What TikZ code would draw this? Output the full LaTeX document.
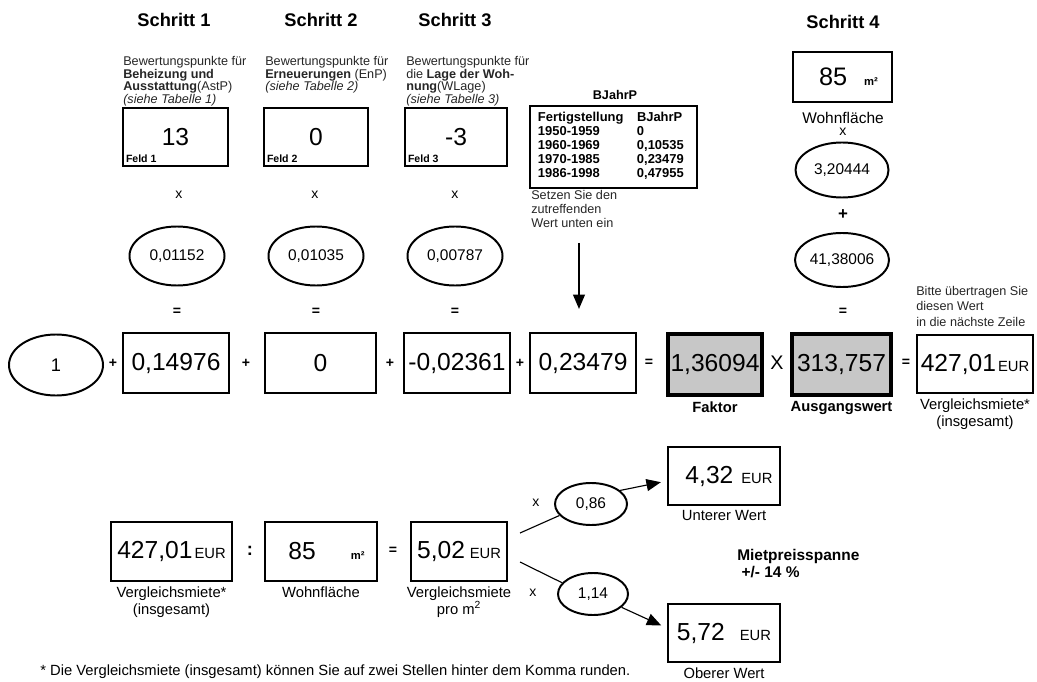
\documentclass[tikz,border=0pt]{standalone}
\usepackage{fontspec}
\setmainfont{Liberation Sans}
\usetikzlibrary{positioning, shapes.geometric, arrows.meta}

\tikzset{
  kasten/.style={draw, rectangle, line width=1.8pt, inner sep=0pt, minimum height=1.5cm, font=\fontsize{17.5}{18}\selectfont},
  graukasten/.style={kasten, line width=3pt, fill=black!22},
  oval/.style={draw, ellipse, line width=1.4pt, inner sep=0pt, font=\fontsize{11}{12}\selectfont},
  zeichen/.style={inner sep=0pt, font=\fontsize{10}{10}\selectfont\bfseries},
  mal/.style={inner sep=0pt, font=\fontsize{10}{10}\selectfont},
  etikett/.style={inner sep=0pt, align=center, font=\fontsize{10.5}{12}\selectfont},
  hinweis/.style={inner sep=0pt, anchor=north west, align=left, text=black!85, font=\fontsize{9}{9}\selectfont},
  titel/.style={inner sep=0pt, font=\fontsize{13}{13}\selectfont\bfseries},
  feldname/.style={inner sep=0pt, font=\fontsize{7.5}{8}\selectfont\bfseries},
  pfeil/.style={-{Triangle[length=3.6mm,width=3mm]}, line width=0.8pt},
}
\newcommand{\eur}{{\fontsize{10.5}{10}\selectfont EUR}}
\newcommand{\qm}{{\fontsize{8}{8}\selectfont\bfseries m²}}

\begin{document}
\begin{tikzpicture}[x=0.025cm, y=-0.025cm]
  \useasboundingbox (0,0) rectangle (1037,682);

  % Schritt 1 bis 3
  \node[titel] (titel1) at (174,20) {Schritt 1};
  \node[titel] (titel2) at (321,20) {Schritt 2};
  \node[titel] (titel3) at (455,20) {Schritt 3};
  \node[titel] (titel4) at (843,22) {Schritt 4};

  \node[hinweis] (text1) at (123,56) {Bewertungspunkte für\\\textbf{Beheizung und}\\\textbf{Ausstattung}(AstP)\\\textit{(siehe Tabelle 1)}};
  \node[hinweis] (text2) at (265,56) {Bewertungspunkte für\\\textbf{Erneuerungen} (EnP)\\\textit{(siehe Tabelle 2)}};
  \node[hinweis] (text3) at (406,56) {Bewertungspunkte für\\die \textbf{Lage der Woh-}\\\textbf{nung}(WLage)\\\textit{(siehe Tabelle 3)}};

  \node[kasten, minimum width=2.625cm, minimum height=1.45cm] (feld1) at (175.5,137) {13};
  \node[kasten, minimum width=2.6cm, minimum height=1.45cm] (feld2) at (316,137) {0};
  \node[kasten, minimum width=2.55cm, minimum height=1.45cm] (feld3) at (456,137) {-3};
  \node[feldname, above right=0.12cm and 0.1cm of feld1.south west] (name1) {Feld 1};
  \node[feldname, above right=0.12cm and 0.1cm of feld2.south west] (name2) {Feld 2};
  \node[feldname, above right=0.12cm and 0.1cm of feld3.south west] (name3) {Feld 3};

  \node[mal] (mal1) at (179,195) {x};
  \node[mal] (mal2) at (315,195) {x};
  \node[mal] (mal3) at (455,195) {x};

  \node[oval, minimum width=2.375cm, minimum height=1.475cm] (oval1) at (177,256) {0,01152};
  \node[oval, minimum width=2.375cm, minimum height=1.475cm] (oval2) at (316,256) {0,01035};
  \node[oval, minimum width=2.375cm, minimum height=1.475cm] (oval3) at (455,256) {0,00787};

  \node[zeichen] (gleich1) at (177,312) {=};
  \node[zeichen] (gleich2) at (316,312) {=};
  \node[zeichen] (gleich3) at (455,312) {=};

  % Baujahr-Tabelle
  \node[inner sep=0pt, font=\fontsize{9}{9}\selectfont\bfseries] (bjahrtitel) at (615,95) {BJahrP};
  \node[draw, line width=1.8pt, inner xsep=0.2cm, inner ysep=0pt, text width=3.775cm, minimum height=2.05cm, align=left,
        font=\fontsize{9.2}{9.9}\selectfont\bfseries] (tabelle) at (613.5,147) {%
    \begin{tabular}{@{}p{2.475cm}@{}l@{}}
      Fertigstellung & BJahrP\\
      1950-1959 & 0\\
      1960-1969 & 0,10535\\
      1970-1985 & 0,23479\\
      1986-1998 & 0,47955
    \end{tabular}};
  \node[hinweis, font=\fontsize{9}{10}\selectfont] (setzen) at (531,190) {Setzen Sie den\\zutreffenden\\Wert unten ein};

  % Schritt 4
  \node[kasten, minimum width=2.475cm, minimum height=1.25cm, font=\fontsize{18}{18}\selectfont] (flaeche) at (842.5,77) {\hspace{0.3cm}85\hspace{0.42cm}\qm};
  \node[etikett, font=\fontsize{11}{12}\selectfont] (flaechetext) at (843,118) {Wohnfläche};
  \node[mal] (mal4) at (843,132) {x};
  \node[oval, minimum width=2.325cm, minimum height=1.375cm] (oval4) at (842,170) {3,20444};
  \node[zeichen, font=\fontsize{12}{12}\selectfont\bfseries] (plus4) at (843,215) {+};
  \node[oval, minimum width=2.35cm, minimum height=1.35cm] (oval5) at (842,260) {41,38006};
  \node[zeichen] (gleich4) at (843,312) {=};
  \node[hinweis, font=\fontsize{9}{11}\selectfont] (uebertrag) at (916,286) {Bitte übertragen Sie\\diesen Wert\\in die nächste Zeile};

  % Hauptzeile
  \node[oval, minimum width=2.35cm, minimum height=1.525cm, font=\fontsize{13}{13}\selectfont] (eins) at (56,365) {1};
  \node[zeichen] (plus1) at (113,363) {+};
  \node[kasten, minimum width=2.65cm] (summand1) at (176,363) {\makebox[0pt]{0,14976}};
  \node[zeichen] (plus2) at (246,363) {+};
  \node[kasten, minimum width=2.775cm] (summand2) at (320.5,363) {\makebox[0pt]{0}};
  \node[zeichen] (plus3) at (390,363) {+};
  \node[kasten, minimum width=2.65cm] (summand3) at (457,363) {\makebox[0pt]{-0,02361}};
  \node[zeichen] (plus4a) at (520,363) {+};
  \node[kasten, minimum width=2.65cm] (summand4) at (583,363) {\makebox[0pt]{0,23479}};
  \node[zeichen] (gleich5) at (649,363) {=};
  \node[graukasten, minimum width=2.35cm, minimum height=1.525cm] (faktor) at (715,364.5) {\makebox[0pt]{1,36094}};
  \node[mal, font=\fontsize{14}{14}\selectfont] (mal5) at (777,363) {X};
  \node[graukasten, minimum width=2.475cm, minimum height=1.525cm] (ausgang) at (841.5,364.5) {\makebox[0pt]{313,757}};
  \node[zeichen] (gleich6) at (906,363) {=};
  \node[kasten, minimum width=2.9cm, minimum height=1.45cm] (gesamt) at (975,364) {\makebox[0pt]{427,01\hspace{0.05cm}\eur}};

  \node[etikett, font=\fontsize{10.5}{12}\selectfont\bfseries, below=0.1cm of faktor] (faktortext) {Faktor};
  \node[etikett, font=\fontsize{10.5}{12}\selectfont\bfseries, below=0.1cm of ausgang] (ausgangtext) {Ausgangswert};
  \node[etikett, below=0.1cm of gesamt] (gesamttext) {Vergleichsmiete*\\(insgesamt)};

  \coordinate (pfeilstart) at (579,243);
  \draw[pfeil, shorten >=0.57cm] (pfeilstart) -- (pfeilstart |- summand4.north);

  % untere Zeile
  \node[kasten, minimum width=3.025cm, minimum height=1.475cm] (miete) at (171.5,551.5) {\makebox[0pt]{427,01\hspace{0.05cm}\eur}};
  \node[zeichen, font=\fontsize{13}{13}\selectfont\bfseries] (geteilt) at (250,551) {:};
  \node[kasten, minimum width=2.8cm, minimum height=1.475cm] (wohnflaeche) at (321,551.5) {\hspace{0.275cm}85\hspace{0.875cm}\qm};
  \node[zeichen] (gleich7) at (393,551) {=};
  \node[kasten, minimum width=2.4cm, minimum height=1.475cm] (promq) at (459,551.5) {\makebox[0pt]{5,02\hspace{0.12cm}\eur}};

  \node[etikett, below=0.1cm of miete] (mietetext) {Vergleichsmiete*\\(insgesamt)};
  \node[etikett, below=0.1cm of wohnflaeche] (wohnflaechetext) {Wohnfläche};
  \node[etikett, below=0.1cm of promq] (promqtext) {Vergleichsmiete\\pro m\textsuperscript{2}};

  \node[oval, minimum width=1.8cm, minimum height=1.05cm] (unterfaktor) at (591,504) {0,86};
  \node[oval, minimum width=1.75cm, minimum height=1.05cm] (oberfaktor) at (593,594) {1,14};
  \node[mal] (mal6) at (536,503) {x};
  \node[mal] (mal7) at (533,593) {x};

  \node[kasten, minimum width=2.8cm, minimum height=1.45cm] (unten) at (724,476) {\hspace{0.25cm}4,32\hspace{0.2cm}\eur};
  \node[kasten, minimum width=2.8cm, minimum height=1.45cm] (oben) at (724,633) {5,72\hspace{0.375cm}\eur};
  \node[etikett, below=0.1cm of unten] (untentext) {Unterer Wert};
  \node[etikett, below=0.1cm of oben] (obentext) {Oberer Wert};
  \node[hinweis, text=black, font=\fontsize{11}{12}\selectfont\bfseries] (spanne) at (737,549) {Mietpreisspanne\\\ +/- 14 \%};

  \coordinate (gabel1) at (520,533);
  \coordinate (gabel2) at (520,562);
  \draw[line width=0.8pt] (gabel1) -- (unterfaktor.200);
  \draw[line width=0.8pt] (gabel2) -- (oberfaktor.160);
  \draw[pfeil, shorten >=0.15cm] (unterfaktor.25) -- (unten.185);
  \draw[pfeil, shorten >=0.15cm] (oberfaktor.335) -- (oben.175);

  \node[inner sep=0pt, anchor=west, font=\fontsize{10.5}{12}\selectfont] (fussnote) at (40,672) {* Die Vergleichsmiete (insgesamt) können Sie auf zwei Stellen hinter dem Komma runden.};
\end{tikzpicture}
\end{document}
